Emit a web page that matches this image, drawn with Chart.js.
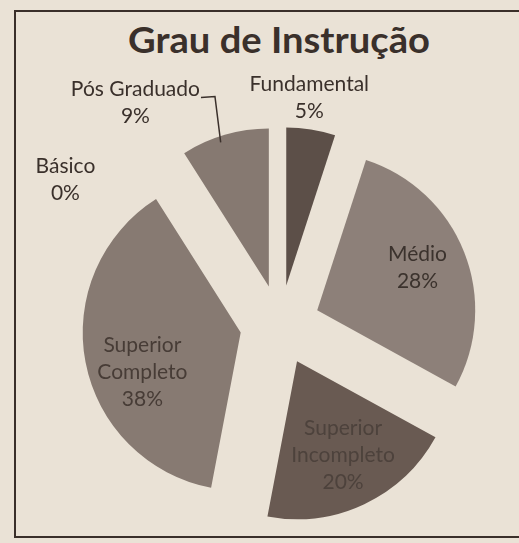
<!DOCTYPE html>
<html>
<head>
<meta charset="utf-8">
<script src="https://cdn.jsdelivr.net/npm/chart.js@4.4.0/dist/chart.umd.min.js"></script>
<style>
  html, body { margin: 0; padding: 0; background: #eae2d6; }
  body { width: 519px; height: 543px; position: relative; overflow: hidden; }
  #moldura { position: absolute; left: 14px; top: 10px; width: 540px; height: 528px; border: 2px solid #3a2f2a; box-sizing: border-box; }
  #titulo { position: absolute; left: 0; top: 19px; width: 558px; text-align: center; font: bold 36px Lato; color: #3a302b; line-height: 40px; transform: scaleX(1.06); transform-origin: 279px 0; }
  canvas { position: absolute; left: 0; top: 0; }
</style>
</head>
<body>
<div id="moldura"></div>
<div id="titulo">Grau de Instrução</div>
<canvas id="grafico" width="519" height="543"></canvas>
<script>
// dados do gráfico (sentido horário a partir do topo)
const categorias = ['Fundamental', 'Médio', 'Superior Incompleto', 'Superior Completo', 'Básico', 'Pós Graduado'];
const percentuais = [5, 28, 20, 38, 0, 9];
const linhasRotulo = [['Fundamental'], ['Médio'], ['Superior', 'Incompleto'], ['Superior', 'Completo'], ['Básico'], ['Pós Graduado']];

const cores = ['#5c4f48', '#8d8079', '#695a52', '#877a72', '#877a72', '#867971'];
// posição do rótulo: ângulo (graus, horário a partir do topo) e distância a partir do vértice da fatia
const posRotulo = [[7, 189], [67, 109], [154, 105], [248, 106], [300, 223], [324, 227]];
const corTexto = ['#3a302b', '#3b322d', '#4d423c', '#473c36', '#3a302b', '#3a302b'];
const afastamento = 40; // deslocamento das fatias (pie explodido)

const explodir = {
  id: 'explodir',
  beforeDatasetDraw(chart, args) {
    const ctx = chart.ctx;
    args.meta.data.forEach(arc => {
      const meio = (arc.startAngle + arc.endAngle) / 2;
      ctx.save();
      ctx.translate(Math.cos(meio) * afastamento, Math.sin(meio) * afastamento);
      arc.draw(ctx);
      ctx.restore();
    });
    return false;
  }
};

const rotulos = {
  id: 'rotulos',
  afterDraw(chart) {
    const ctx = chart.ctx;
    const meta = chart.getDatasetMeta(0);
    ctx.save();
    ctx.font = '21px Lato';
    ctx.textAlign = 'center';
    ctx.textBaseline = 'middle';
    const alt = 27;
    meta.data.forEach((arc, i) => {
      const meio = (arc.startAngle + arc.endAngle) / 2;
      const vx = arc.x + Math.cos(meio) * afastamento;
      const vy = arc.y + Math.sin(meio) * afastamento;
      const ang = (posRotulo[i][0] - 90) * Math.PI / 180;
      const cx = vx + Math.cos(ang) * posRotulo[i][1];
      const cy = vy + Math.sin(ang) * posRotulo[i][1];
      const linhas = linhasRotulo[i].concat([percentuais[i] + '%']);
      const y0 = cy - (linhas.length - 1) * alt / 2;
      ctx.fillStyle = corTexto[i];
      linhas.forEach((t, k) => ctx.fillText(t, cx, y0 + k * alt));

      // linha guia do Pós Graduado
      if (categorias[i] === 'Pós Graduado') {
        const w = ctx.measureText(linhas[0]).width;
        const a = arc.startAngle + 0.43 * (arc.endAngle - arc.startAngle);
        const ex = vx + Math.cos(a) * (arc.outerRadius - 6);
        const ey = vy + Math.sin(a) * (arc.outerRadius - 6);
        const sx = cx + w / 2 + 1;
        const sy = y0 + 8;
        ctx.strokeStyle = '#3a302b';
        ctx.lineWidth = 1.5;
        ctx.beginPath();
        ctx.moveTo(sx, sy);
        ctx.lineTo(sx + 14, sy - 1);
        ctx.lineTo(ex, ey);
        ctx.stroke();
      }
    });
    ctx.restore();
  }
};

new Chart(document.getElementById('grafico'), {
  type: 'pie',
  data: {
    labels: categorias,
    datasets: [{
      data: percentuais,
      backgroundColor: cores,
      borderWidth: 0,
      radius: 158
    }]
  },
  options: {
    responsive: false,
    animation: false,
    events: [],
    layout: { padding: { left: 61, right: 20, top: 127, bottom: 20 } },
    plugins: {
      legend: { display: false },
      tooltip: { enabled: false },
      title: { display: false }
    }
  },
  plugins: [explodir, rotulos]
});
</script>
</body>
</html>
